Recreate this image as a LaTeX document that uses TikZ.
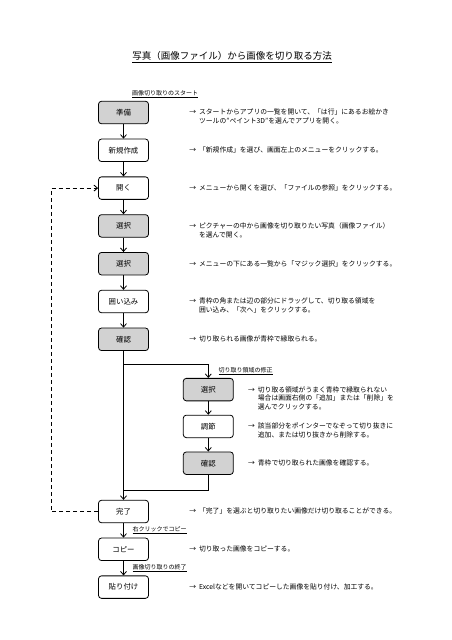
\documentclass[tikz,border=0pt]{standalone}
\usepackage{fontspec}
\setmainfont{Noto Sans CJK JP}
\usepackage{tikz}
\usetikzlibrary{arrows.meta,positioning,calc}
\definecolor{BoxGray}{HTML}{D2D2D2}
\newcommand{\tonote}{\llap{→\hspace{3pt}}}

\begin{document}
\begin{tikzpicture}[
  x=1pt,y=-1pt,
  node distance=14.5pt and 34pt,
  plain/.style={draw,line width=0.8pt,rounded corners=3pt,fill=white,minimum width=50pt,minimum height=22.5pt,inner sep=1pt,font=\fontsize{7.4pt}{9pt}\selectfont},
  shaded/.style={plain,fill=BoxGray},
  desc/.style={anchor=north west,inner sep=0pt,align=left,font=\fontsize{6.8pt}{8.6pt}\selectfont},
  note/.style={inner sep=0pt,font=\fontsize{6pt}{7pt}\selectfont},
  arr/.style={-{Straight Barb[length=3.5pt,width=6pt]},line width=0.8pt},
  fb/.style={-{Straight Barb[length=3.5pt,width=6pt]},line width=0.9pt,dash pattern=on 4pt off 3pt}
]
\fill[white] (0,0) rectangle (452,640);
\node[font=\fontsize{9.5pt}{11pt}\selectfont] (title) at (232,57) {\underline{写真（画像ファイル）から画像を切り取る方法}};

% main flow
\node[shaded] (prep) at (123.5,112.5) {準備};
\node[plain,below=of prep] (newfile) {新規作成};
\node[plain,below=of newfile] (open) {開く};
\node[shaded,below=of open] (pick) {選択};
\node[shaded,below=of pick] (magic) {選択};
\node[plain,below=of magic] (enclose) {囲い込み};
\node[shaded,below=of enclose] (confirm) {確認};

% correction branch
\node[shaded,below right=27pt and 34pt of confirm] (subpick) {選択};
\node[plain,below=13.5pt of subpick] (subadjust) {調節};
\node[shaded,below=13.5pt of subadjust] (subcheck) {確認};

\node[plain,below left=25pt and 34pt of subcheck] (done) {完了};
\node[plain,below=of done] (copy) {コピー};
\node[plain,below=of copy] (paste) {貼り付け};

\coordinate (fork) at ($(confirm.south)+(0,-13.5pt)$);
\coordinate (merge) at ($(done.north)+(0,9pt)$);

\foreach \a/\b in {prep/newfile,newfile/open,open/pick,pick/magic,magic/enclose,enclose/confirm,confirm/done,subpick/subadjust,subadjust/subcheck,done/copy,copy/paste}
  \draw[arr] (\a) -- (\b);
\draw[arr] (fork) -| (subpick.north);
\draw[line width=0.8pt] (subcheck.south) |- (merge);
\draw[fb] (done.west) -- ++(-47pt,0) |- (open.west);

% labels on the arrows
\node[note,anchor=south west] (startnote) at ([xshift=8.5pt,yshift=3pt]prep.north) {\underline{画像切り取りのスタート}};
\node[note,anchor=west] (fixnote) at ([xshift=10pt]$(fork -| subpick.north)!0.5!(subpick.north)$) {\underline{切り取り領域の修正}};
\node[note,anchor=west] (copynote) at ([xshift=9pt]$(done.south)!0.5!(copy.north)$) {\underline{右クリックでコピー}};
\node[note,anchor=west] (endnote) at ([xshift=9pt]$(copy.south)!0.5!(paste.north)$) {\underline{画像切り取りの終了}};

% explanations
\node[desc] (prepdesc) at ([xshift=50pt,yshift=3.5pt]prep.east) {\tonote スタートからアプリの一覧を開いて、「は行」にあるお絵かき\\ツールの"ペイント3D"を選んでアプリを開く。};
\node[desc] (newdesc) at ([xshift=50pt,yshift=3.5pt]newfile.east) {\tonote 「新規作成」を選び、画面左上のメニューをクリックする。};
\node[desc] (opendesc) at ([xshift=50pt,yshift=3.5pt]open.east) {\tonote メニューから開くを選び、「ファイルの参照」をクリックする。};
\node[desc] (pickdesc) at ([xshift=50pt,yshift=3.5pt]pick.east) {\tonote ピクチャーの中から画像を切り取りたい写真（画像ファイル）\\を選んで開く。};
\node[desc] (magicdesc) at ([xshift=50pt,yshift=3.5pt]magic.east) {\tonote メニューの下にある一覧から「マジック選択」をクリックする。};
\node[desc] (enclosedesc) at ([xshift=50pt,yshift=3.5pt]enclose.east) {\tonote 青枠の角または辺の部分にドラッグして、切り取る領域を\\囲い込み、「次へ」をクリックする。};
\node[desc] (confirmdesc) at ([xshift=50pt,yshift=3.5pt]confirm.east) {\tonote 切り取られる画像が青枠で縁取られる。};
\node[desc] (subpickdesc) at ([xshift=24pt,yshift=3.5pt]subpick.east) {\tonote 切り取る領域がうまく青枠で縁取られない\\場合は画面右側の「追加」または「削除」を\\選んでクリックする。};
\node[desc] (subadjustdesc) at ([xshift=24pt,yshift=3.5pt]subadjust.east) {\tonote 該当部分をポインターでなぞって切り抜きに\\追加、または切り抜きから削除する。};
\node[desc] (subcheckdesc) at ([xshift=24pt,yshift=3.5pt]subcheck.east) {\tonote 青枠で切り取られた画像を確認する。};
\node[desc] (donedesc) at ([xshift=50pt,yshift=3.5pt]done.east) {\tonote 「完了」を選ぶと切り取りたい画像だけ切り取ることができる。};
\node[desc] (copydesc) at ([xshift=50pt,yshift=3.5pt]copy.east) {\tonote 切り取った画像をコピーする。};
\node[desc] (pastedesc) at ([xshift=50pt,yshift=3.5pt]paste.east) {\tonote Excelなどを開いてコピーした画像を貼り付け、加工する。};
\end{tikzpicture}
\end{document}
